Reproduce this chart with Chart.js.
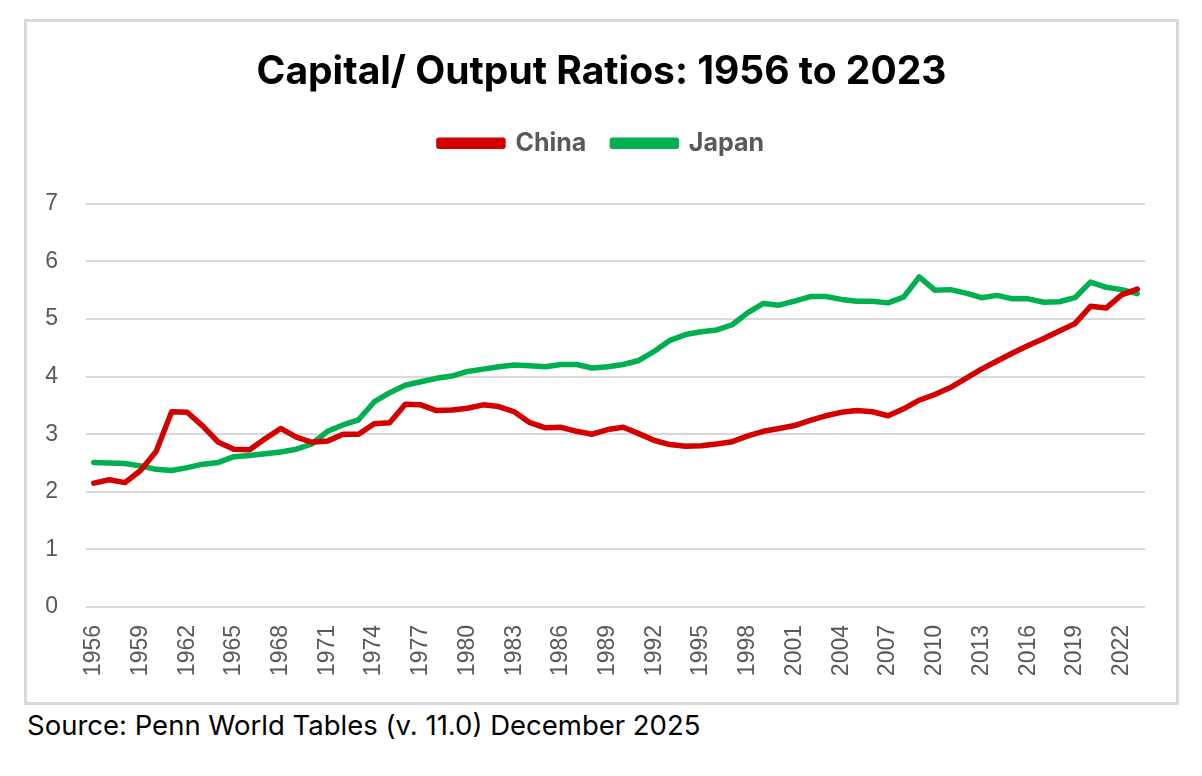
<!DOCTYPE html>
<html>
<head>
<meta charset="utf-8">
<script src="https://cdn.jsdelivr.net/npm/chart.js@4.4.1/dist/chart.umd.min.js"></script>
<style>
  html, body { margin: 0; padding: 0; background: #fff; width: 1202px; height: 776px; overflow: hidden; }
  #frame { position: absolute; left: 24px; top: 19px; width: 1155px; height: 686px; box-sizing: border-box; border: 3px solid #d9d9d9; }
  #frame canvas { display: block; }
  #source { position: absolute; left: 27px; top: 708px; line-height: 34px; font-family: Inter, "Noto Sans", sans-serif; font-size: 27.5px; color: #000; }
</style>
</head>
<body>
<div id="frame"><canvas id="chart" width="1149" height="680"></canvas></div>
<div id="source">Source: Penn World Tables (v. 11.0) December 2025</div>
<script>
const years = [
  "1956","1957","1958","1959","1960","1961","1962","1963","1964","1965",
  "1966","1967","1968","1969","1970","1971","1972","1973","1974","1975",
  "1976","1977","1978","1979","1980","1981","1982","1983","1984","1985",
  "1986","1987","1988","1989","1990","1991","1992","1993","1994","1995",
  "1996","1997","1998","1999","2000","2001","2002","2003","2004","2005",
  "2006","2007","2008","2009","2010","2011","2012","2013","2014","2015",
  "2016","2017","2018","2019","2020","2021","2022","2023"
];

const china = [
  2.15, 2.21, 2.16, 2.37, 2.70, 3.39, 3.38, 3.14, 2.86, 2.74,
  2.73, 2.92, 3.10, 2.95, 2.86, 2.88, 3.00, 3.00, 3.18, 3.20,
  3.52, 3.51, 3.41, 3.42, 3.45, 3.51, 3.48, 3.39, 3.20, 3.11,
  3.12, 3.05, 3.00, 3.08, 3.12, 3.01, 2.89, 2.82, 2.79, 2.80,
  2.83, 2.87, 2.97, 3.05, 3.10, 3.15, 3.24, 3.32, 3.38, 3.41,
  3.39, 3.32, 3.44, 3.59, 3.69, 3.81, 3.97, 4.13, 4.27, 4.41,
  4.54, 4.66, 4.79, 4.92, 5.22, 5.19, 5.42, 5.52
];

const japan = [
  2.51, 2.50, 2.49, 2.45, 2.39, 2.37, 2.42, 2.48, 2.51, 2.61,
  2.63, 2.66, 2.69, 2.74, 2.83, 3.05, 3.16, 3.25, 3.56, 3.72,
  3.85, 3.91, 3.97, 4.01, 4.09, 4.13, 4.17, 4.20, 4.19, 4.17,
  4.21, 4.21, 4.15, 4.17, 4.21, 4.28, 4.44, 4.63, 4.73, 4.78,
  4.81, 4.90, 5.11, 5.27, 5.24, 5.31, 5.39, 5.39, 5.34, 5.31,
  5.31, 5.28, 5.38, 5.73, 5.50, 5.51, 5.45, 5.37, 5.41, 5.35,
  5.35, 5.29, 5.30, 5.37, 5.64, 5.55, 5.51, 5.44
];

const yTicks = [0, 1, 2, 3, 4, 5, 6, 7];

const RED = "#d40000";
const GREEN = "#00b050";
const GREY = "#595959";

function lineSet(label, data, color) {
  return {
    label, data,
    borderColor: color,
    backgroundColor: color,
    borderWidth: 5.5,
    pointRadius: 0,
    tension: 0,
    borderCapStyle: "round",
    borderJoinStyle: "round",
    fill: false
  };
}

// leave more room between the legend and the plot
const legendGap = {
  id: "legendGap",
  beforeInit(chart) {
    const fit = chart.legend.fit;
    chart.legend.fit = function () {
      fit.bind(chart.legend)();
      this.height += 38;
    };
  }
};

new Chart(document.getElementById("chart").getContext("2d"), {
  type: "line",
  data: {
    labels: years,
    datasets: [lineSet("China", china, RED), lineSet("Japan", japan, GREEN)]
  },
  plugins: [legendGap],
  options: {
    responsive: false,
    animation: false,
    layout: { padding: { top: 14, right: 0, left: 0, bottom: 0 } },
    plugins: {
      title: {
        display: true,
        text: "Capital/ Output Ratios: 1956 to 2023",
        color: "#000",
        font: { family: "Inter, 'Noto Sans', sans-serif", size: 39, weight: "bold" },
        padding: { top: 13, bottom: 9 }
      },
      legend: {
        display: true,
        labels: {
          color: GREY,
          font: { family: "Inter, 'Noto Sans', sans-serif", size: 25, weight: "bold" },
          boxWidth: 64,
          boxHeight: 6,
          padding: 26
        }
      },
      tooltip: { enabled: false }
    },
    scales: {
      x: {
        offset: true,
        grid: { display: false, drawTicks: false },
        border: { display: false },
        ticks: {
          autoSkip: false,
          maxRotation: 90,
          minRotation: 90,
          padding: 18,
          color: GREY,
          font: { family: "'Liberation Sans', Arial, sans-serif", size: 23 },
          callback: (v, i) => (i % 3 === 0 ? years[i] : "")
        },
        afterFit: axis => {
          axis.height = 95;
          axis.paddingLeft = 0;
          axis.paddingRight = 31;
        }
      },
      y: {
        min: 0,
        max: 7,
        grid: { color: "#d9d9d9", lineWidth: 2, drawTicks: false },
        border: { display: false },
        afterBuildTicks: axis => { axis.ticks = yTicks.map(v => ({ value: v })); },
        ticks: {
          padding: 28,
          color: GREY,
          font: { family: "'Liberation Sans', Arial, sans-serif", size: 23 }
        },
        afterFit: axis => { axis.width = 59; }
      }
    }
  }
});
</script>
</body>
</html>
